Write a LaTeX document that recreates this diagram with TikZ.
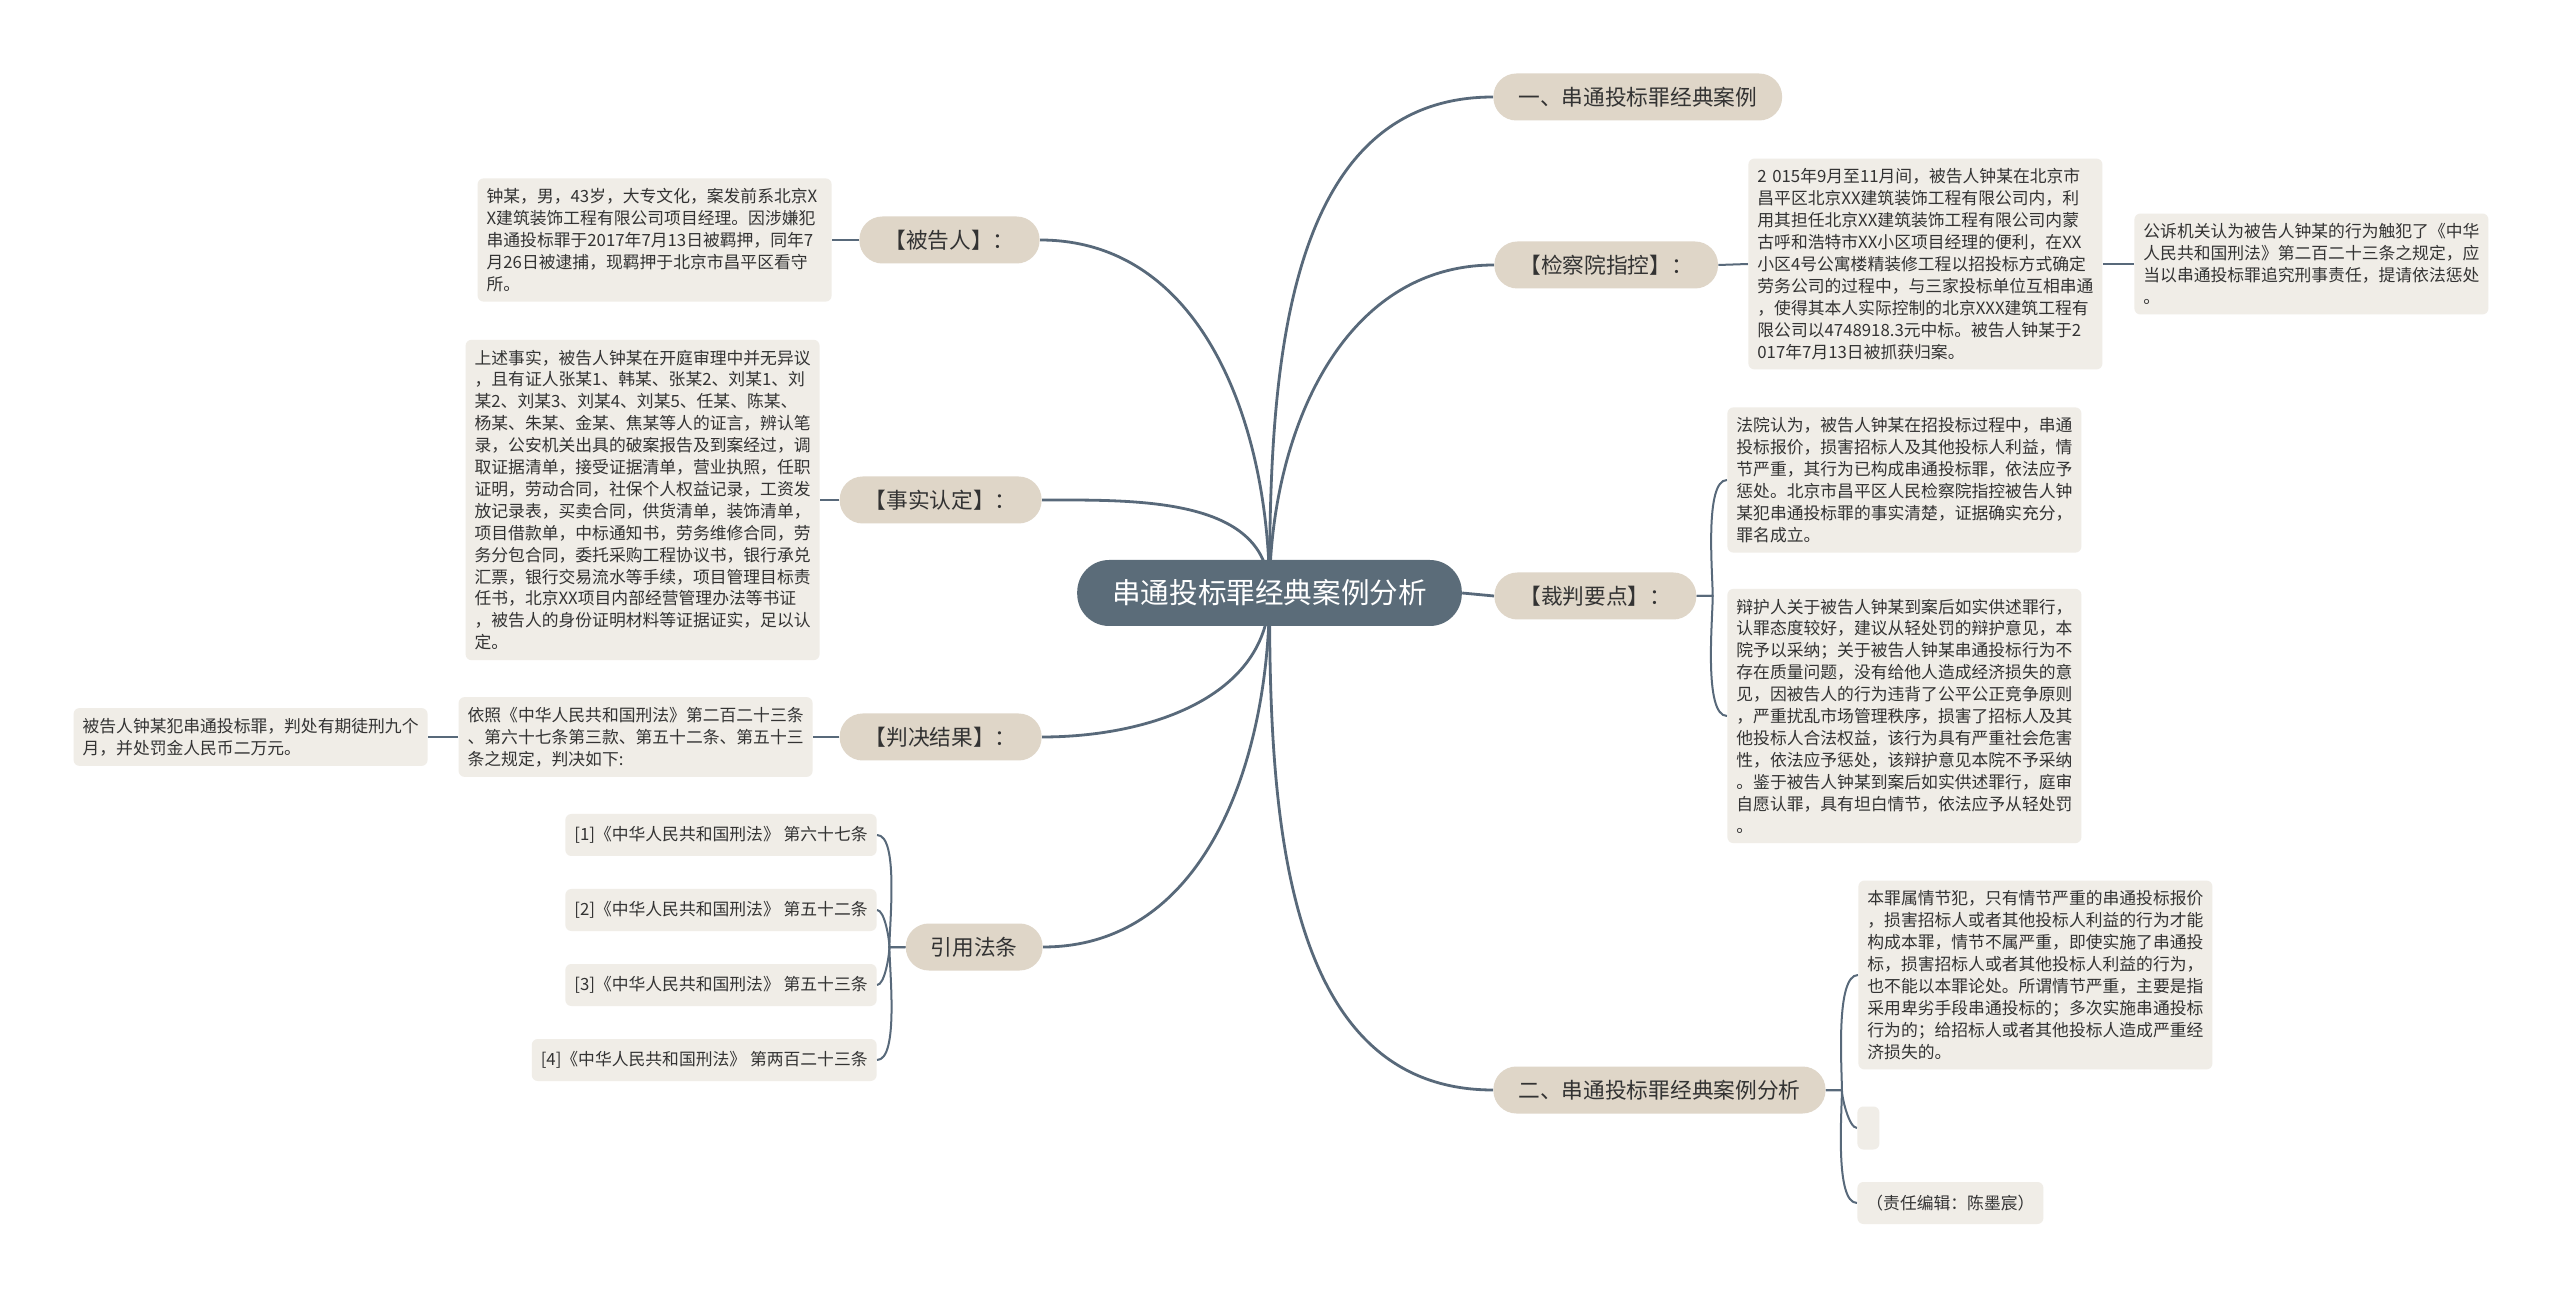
\documentclass[tikz,border=0pt]{standalone}
\usepackage{fontspec}
\newfontfamily\cjk{Noto Sans CJK SC}
\usepackage{tikz}
\usetikzlibrary{backgrounds}
\definecolor{RootSlate}{HTML}{5B6C79}
\definecolor{LinkSlate}{HTML}{58697A}
\definecolor{BranchTan}{HTML}{DFD6C8}
\definecolor{LeafCream}{HTML}{F0EDE7}
\definecolor{InkDark}{HTML}{333333}

\begin{document}
\begin{tikzpicture}[x=0.5pt,y=0.5pt,
    leaf/.style={fill=LeafCream, rounded corners=3pt, inner xsep=4.5pt, inner ysep=5pt,
      minimum height=21pt, text=InkDark, font=\cjk\fontsize{8.4pt}{10.95pt}\selectfont},
    note/.style={leaf, text width=168pt, align=left},
    branch/.style={fill=BranchTan, rounded corners=11.5pt, minimum height=23.5pt,
      inner xsep=12.5pt, text=InkDark, font=\cjk\fontsize{10.85pt}{13pt}\selectfont},
    link/.style={LinkSlate, line width=1.4pt},
    sublink/.style={LinkSlate, line width=1pt}]

  \node[fill=RootSlate, rounded corners=16pt, minimum height=33pt, inner xsep=17.5pt,
    text=white, font=\cjk\fontsize{14.3pt}{17pt}\selectfont] (root) at (1269.5,-593) {串通投标罪经典案例分析};

  \node[branch, anchor=west] (case) at (1493,-97) {一、串通投标罪经典案例};
  \node[branch, anchor=west] (charge) at (1494,-265) {【检察院指控】：};
  \node[branch, anchor=west] (ruling) at (1494,-596) {【裁判要点】：};
  \node[branch, anchor=west] (analysis) at (1493,-1090) {二、串通投标罪经典案例分析};
  \node[branch, anchor=east] (accused) at (1040,-240) {【被告人】：};
  \node[branch, anchor=east] (facts) at (1042,-500) {【事实认定】：};
  \node[branch, anchor=east] (verdict) at (1042,-737) {【判决结果】：};
  \node[branch, anchor=east] (laws) at (1043,-947) {引用法条};

  \node[note, anchor=east] (accusedtxt) at (832,-240) {钟某，男，43岁，大专文化，案发前系北京X\\X建筑装饰工程有限公司项目经理。因涉嫌犯\\串通投标罪于2017年7月13日被羁押，同年7\\月26日被逮捕，现羁押于北京市昌平区看守\\所。};
  \node[note, anchor=east] (factstxt) at (820,-500) {上述事实，被告人钟某在开庭审理中并无异议\\，且有证人张某1、韩某、张某2、刘某1、刘\\某2、刘某3、刘某4、刘某5、任某、陈某、\\杨某、朱某、金某、焦某等人的证言，辨认笔\\录，公安机关出具的破案报告及到案经过，调\\取证据清单，接受证据清单，营业执照，任职\\证明，劳动合同，社保个人权益记录，工资发\\放记录表，买卖合同，供货清单，装饰清单，\\项目借款单，中标通知书，劳务维修合同，劳\\务分包合同，委托采购工程协议书，银行承兑\\汇票，银行交易流水等手续，项目管理目标责\\任书，北京XX项目内部经营管理办法等书证\\，被告人的身份证明材料等证据证实，足以认\\定。};
  \node[note, anchor=east] (verdicttxt) at (813,-737) {依照《中华人民共和国刑法》第二百二十三条\\、第六十七条第三款、第五十二条、第五十三\\条之规定，判决如下:};
  \node[note, anchor=east] (sentence) at (428,-737) {被告人钟某犯串通投标罪，判处有期徒刑九个\\月，并处罚金人民币二万元。};
  \foreach \i/\art in {1/第六十七条,2/第五十二条,3/第五十三条,4/第两百二十三条}
    \node[leaf, anchor=east] (cite\i) at (877,{-760-75*\i}) {[\i]《中华人民共和国刑法》 \art};

  \node[note, anchor=west] (chargetxt) at (1748,-264) {2 015年9月至11月间，被告人钟某在北京市\\昌平区北京XX建筑装饰工程有限公司内，利\\用其担任北京XX建筑装饰工程有限公司内蒙\\古呼和浩特市XX小区项目经理的便利，在XX\\小区4号公寓楼精装修工程以招投标方式确定\\劳务公司的过程中，与三家投标单位互相串通\\，使得其本人实际控制的北京XXX建筑工程有\\限公司以4748918.3元中标。被告人钟某于2\\017年7月13日被抓获归案。};
  \node[note, anchor=west] (prosecution) at (2134,-264) {公诉机关认为被告人钟某的行为触犯了《中华\\人民共和国刑法》第二百二十三条之规定，应\\当以串通投标罪追究刑事责任，提请依法惩处\\。};
  \node[note, anchor=west] (courtview) at (1727,-480) {法院认为，被告人钟某在招投标过程中，串通\\投标报价，损害招标人及其他投标人利益，情\\节严重，其行为已构成串通投标罪，依法应予\\惩处。北京市昌平区人民检察院指控被告人钟\\某犯串通投标罪的事实清楚，证据确实充分，\\罪名成立。};
  \node[note, anchor=west] (defence) at (1727,-716) {辩护人关于被告人钟某到案后如实供述罪行，\\认罪态度较好，建议从轻处罚的辩护意见，本\\院予以采纳；关于被告人钟某串通投标行为不\\存在质量问题，没有给他人造成经济损失的意\\见，因被告人的行为违背了公平公正竞争原则\\，严重扰乱市场管理秩序，损害了招标人及其\\他投标人合法权益，该行为具有严重社会危害\\性，依法应予惩处，该辩护意见本院不予采纳\\。鉴于被告人钟某到案后如实供述罪行，庭审\\自愿认罪，具有坦白情节，依法应予从轻处罚\\。};
  \node[note, anchor=west] (analysistxt) at (1858,-975) {本罪属情节犯，只有情节严重的串通投标报价\\，损害招标人或者其他投标人利益的行为才能\\构成本罪，情节不属严重，即使实施了串通投\\标，损害招标人或者其他投标人利益的行为，\\也不能以本罪论处。所谓情节严重，主要是指\\采用卑劣手段串通投标的；多次实施串通投标\\行为的；给招标人或者其他投标人造成严重经\\济损失的。};
  \node[leaf, anchor=west, minimum width=11pt, minimum height=21.5pt] (blank) at (1857,-1128) {};
  \node[leaf, anchor=west] (editor) at (1857,-1203) {（责任编辑：陈墨宸）};

  \begin{scope}[on background layer]
    \fill[white] (0,0) rectangle (2560,-1293);
    \draw[link] (root.center) to[out=90,in=180] (case.west);
    \draw[link] (root.center) to[out=90,in=180] (charge.west);
    \draw[link] (root.east) -- (ruling.west);
    \draw[link] (root.center) to[out=-90,in=180] (analysis.west);
    \draw[link] (root.center) to[out=90,in=0] (accused.east);
    \draw[link] (root.center) to[out=90,in=0] (facts.east);
    \draw[link] (root.center) to[out=-90,in=0] (verdict.east);
    \draw[link] (root.center) to[out=-90,in=0] (laws.east);

    \draw[sublink] (accused.west) -- (accusedtxt.east);
    \draw[sublink] (facts.west) -- (factstxt.east);
    \draw[sublink] (verdict.west) -- (verdicttxt.east);
    \draw[sublink] (verdicttxt.west) -- (sentence.east);
    \foreach \i/\bend in {1/90,2/90,3/-90,4/-90}
      \draw[sublink] (laws.west) -- ++(-16,0) to[out=\bend,in=0,looseness=0.5] (cite\i.east);

    \draw[sublink] (charge.east) -- (chargetxt.west);
    \draw[sublink] (chargetxt.east) -- (prosecution.west);
    \draw[sublink] (ruling.east) -- ++(16,0) to[out=90,in=180,looseness=0.5] (courtview.west);
    \draw[sublink] (ruling.east) -- ++(16,0) to[out=-90,in=180,looseness=0.5] (defence.west);
    \draw[sublink] (analysis.east) -- ++(16,0) to[out=90,in=180,looseness=0.5] (analysistxt.west);
    \draw[sublink] (analysis.east) -- ++(16,0) to[out=-90,in=180,looseness=0.5] (blank.west);
    \draw[sublink] (analysis.east) -- ++(16,0) to[out=-90,in=180,looseness=0.5] (editor.west);
  \end{scope}
\end{tikzpicture}
\end{document}
